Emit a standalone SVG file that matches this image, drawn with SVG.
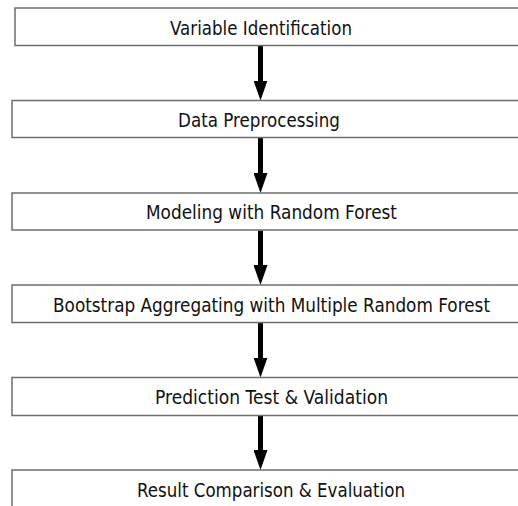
<svg xmlns="http://www.w3.org/2000/svg" width="518" height="506" viewBox="0 0 518 506">
<style>
.box{fill:#ffffff;stroke:#6e6e6e;stroke-width:1.5}
.lbl{font-family:"DejaVu Sans","Liberation Sans",sans-serif;font-size:20px;fill:#111111;text-anchor:middle}
.conn{stroke:#000000;stroke-width:5;fill:none}
</style>
<defs>
<marker id="ah" markerUnits="userSpaceOnUse" markerWidth="20" markerHeight="14" viewBox="0 0 20 14" refX="1" refY="7" orient="auto">
<path d="M0,0 L20,7 L0,14 z" fill="#000000"/>
</marker>
</defs>
<rect width="518" height="506" fill="#ffffff"/>
<g id="connectors">
<line class="conn" x1="260.5" y1="46" x2="260.5" y2="81.5" marker-end="url(#ah)"/>
<line class="conn" x1="260.5" y1="138" x2="260.5" y2="174" marker-end="url(#ah)"/>
<line class="conn" x1="260.5" y1="230.5" x2="260.5" y2="266" marker-end="url(#ah)"/>
<line class="conn" x1="260.5" y1="323" x2="260.5" y2="358.5" marker-end="url(#ah)"/>
<line class="conn" x1="260.5" y1="415.5" x2="260.5" y2="451" marker-end="url(#ah)"/>
</g>
<g id="n1">
<rect class="box" x="15" y="8" width="520" height="37.5"/>
<text class="lbl" x="261" y="35" textLength="182" lengthAdjust="spacingAndGlyphs">Variable Identification</text>
</g>
<g id="n2">
<rect class="box" x="12" y="100.5" width="520" height="37"/>
<text class="lbl" x="259" y="126.5" textLength="162" lengthAdjust="spacingAndGlyphs">Data Preprocessing</text>
</g>
<g id="n3">
<rect class="box" x="12" y="193" width="520" height="37"/>
<text class="lbl" x="271.5" y="219" textLength="251" lengthAdjust="spacingAndGlyphs">Modeling with Random Forest</text>
</g>
<g id="n4">
<rect class="box" x="12" y="285" width="520" height="37.5"/>
<text class="lbl" x="271.5" y="311.5" textLength="437" lengthAdjust="spacingAndGlyphs">Bootstrap Aggregating with Multiple Random Forest</text>
</g>
<g id="n5">
<rect class="box" x="12" y="377.5" width="520" height="38"/>
<text class="lbl" x="271.5" y="404" textLength="233" lengthAdjust="spacingAndGlyphs">Prediction Test &amp; Validation</text>
</g>
<g id="n6">
<rect class="box" x="12" y="470" width="520" height="50"/>
<text class="lbl" x="271" y="496.5" textLength="268" lengthAdjust="spacingAndGlyphs">Result Comparison &amp; Evaluation</text>
</g>
</svg>
